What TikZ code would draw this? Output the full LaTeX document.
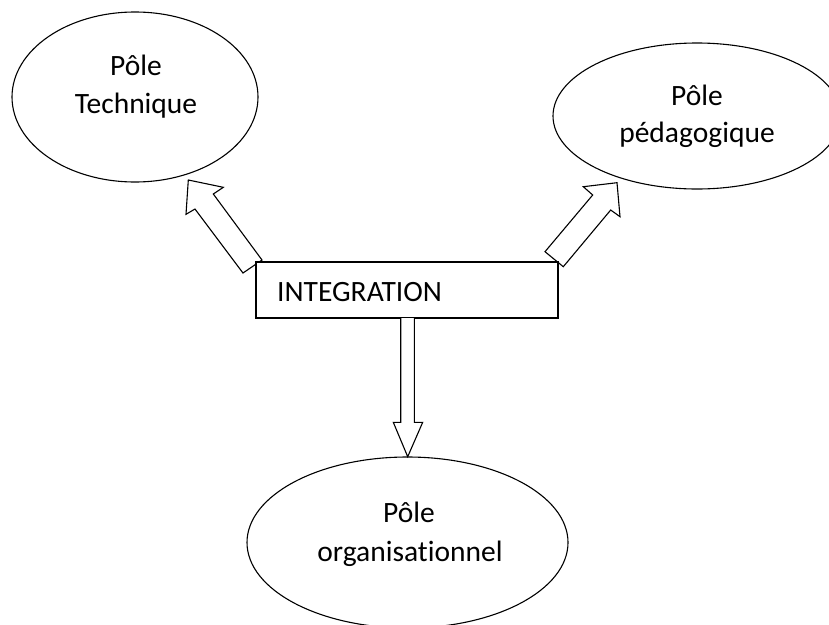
\documentclass[tikz,border=0pt]{standalone}
\usepackage{fontspec}
\setmainfont{Carlito}[Ligatures=NoCommon]
\usetikzlibrary{shapes.geometric}
\begin{document}
\begin{tikzpicture}[x=1pt,y=-1pt,
  pole/.style={draw,ellipse,line width=1.1pt,inner sep=0pt},
  lbl/.style={anchor=base,inner sep=0pt,font=\fontsize{29.5}{38}\selectfont},
  blockarrow/.style={draw,fill=white,line width=1.1pt,line join=miter},
  intbox/.style={draw,line width=1.1pt,inner sep=0pt,minimum width=302pt,minimum height=56pt}]
\useasboundingbox (0,0) rectangle (829,624);
\clip (0,0) rectangle (829,624);
% poles
\node[pole,minimum width=246pt,minimum height=170pt] (tech) at (135,97) {};
\node[pole,minimum width=288pt,minimum height=146pt] (peda) at (697,116) {};
\node[pole,minimum width=321pt,minimum height=171pt] (orga) at (407.5,542.5) {};
\node[lbl] (tech1) at (136,75) {Pôle};
\node[lbl] (tech2) at (136,113) {Technique};
\node[lbl] (peda1) at (697,105) {Pôle};
\node[lbl] (peda2) at (697,142) {pédagogique};
\node[lbl] (orga1) at (409,522) {Pôle};
\node[lbl] (orga2) at (410,561) {organisationnel};
% block arrows
\draw[blockarrow] (243,273) -- (195,209) -- (186,214.3) -- (188.3,180) -- (223.3,187.3) -- (213.3,194) -- (262,260) -- cycle;
\draw[blockarrow] (545,251.7) -- (592.7,195) -- (583.3,186.7) -- (617,182.7) -- (620,216.7) -- (610.7,210) -- (563.3,266.7) -- cycle;
% central box
\node[intbox,fill=white] (integ) at (407,290) {};
\node[lbl,anchor=base west] (integt) at (277,301) {INTEGRATION};
\draw[blockarrow] (400.7,318) -- (400.7,422.3) -- (393.3,422.3) -- (407.7,456.7) -- (422.7,422.3) -- (414.3,422.3) -- (414.3,318);
\end{tikzpicture}
\end{document}
